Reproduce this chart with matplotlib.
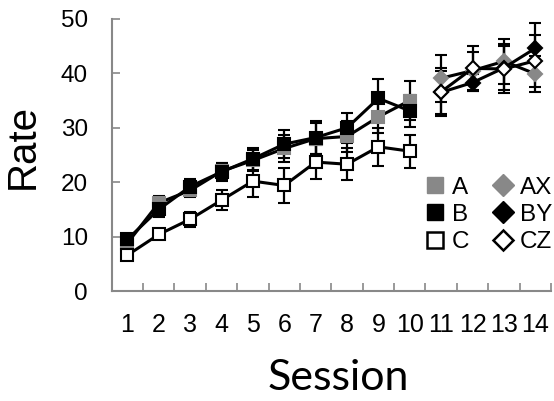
import numpy as np
import matplotlib
matplotlib.use("Agg")
import matplotlib.pyplot as plt
from matplotlib.lines import Line2D
from matplotlib.ticker import FixedLocator, NullFormatter

plt.rcParams["font.family"] = ["Liberation Sans", "DejaVu Sans"]

# Data
sessions_1 = [1, 2, 3, 4, 5, 6, 7, 8, 9, 10]
sessions_2 = [11, 12, 13, 14]
tick_labels = [str(i) for i in range(1, 15)]

a_vals = [8.8, 16.2, 18.5, 22.0, 24.0, 26.2, 28.0, 28.4, 32.0, 35.0]
b_vals = [9.5, 15.0, 19.2, 21.9, 24.3, 27.0, 28.2, 30.0, 35.4, 33.1]
c_vals = [6.6, 10.4, 13.2, 16.7, 20.2, 19.4, 23.7, 23.3, 26.5, 25.7]
a_err = [1.0, 1.2, 1.2, 1.6, 2.0, 2.5, 2.8, 2.8, 3.0, 3.6]
b_err = [1.0, 1.3, 1.4, 1.6, 2.0, 2.5, 3.1, 2.8, 3.6, 3.0]
c_err = [0.8, 0.8, 1.4, 1.8, 3.0, 3.2, 3.1, 2.9, 3.5, 3.0]

ax_vals = [39.1, 40.5, 42.2, 39.9]
by_vals = [36.5, 38.3, 41.0, 44.6]
cz_vals = [36.6, 40.9, 40.8, 42.3]
ax_err = [4.3, 3.5, 4.1, 3.3]
by_err = [4.0, 1.5, 4.1, 4.6]
cz_err = [4.4, 4.2, 4.5, 4.8]

gray = "#888888"
fig = plt.figure(figsize=(5.54, 4.01), dpi=100)
ax = fig.add_axes([0.2016, 0.274, 0.793, 0.679])

series = [
    (sessions_1, a_vals, a_err, "s", gray, gray),
    (sessions_1, b_vals, b_err, "s", "black", "black"),
    (sessions_1, c_vals, c_err, "s", "white", "black"),
    (sessions_2, ax_vals, ax_err, "D", gray, gray),
    (sessions_2, by_vals, by_err, "D", "black", "black"),
    (sessions_2, cz_vals, cz_err, "D", "white", "black"),
]
for x, y, e, m, fc, ec in series:
    ax.errorbar(x, y, yerr=e, color="black", lw=2.2, elinewidth=1.6,
                capsize=4.3, capthick=1.6, marker=m, markersize=8 if m == "s" else 7.5,
                markerfacecolor=fc, markeredgecolor=ec, markeredgewidth=1.5)

ax.set_xlim(0.5, 14.5)
ax.set_ylim(0, 50)
ax.set_yticks([0, 10, 20, 30, 40, 50])
ax.set_xticks(range(1, 15))
ax.set_xticklabels(tick_labels)
ax.xaxis.set_minor_locator(FixedLocator(np.arange(1.5, 15, 1)))
ax.xaxis.set_minor_formatter(NullFormatter())
ax.tick_params(axis="x", which="major", length=0, labelsize=18, pad=16)
ax.tick_params(axis="x", which="minor", direction="in", length=6, width=1.2, color=gray)
ax.tick_params(axis="y", direction="in", length=6, width=1.2, color=gray, labelsize=17.5, pad=17)

for s in ["top", "right"]:
    ax.spines[s].set_visible(False)
for s in ["left", "bottom"]:
    ax.spines[s].set_color(gray)
    ax.spines[s].set_linewidth(1.5)

ax.set_ylabel("Rate", fontsize=29)
ax.yaxis.set_label_coords(-0.159, 0.53)
ax.set_xlabel("Session", fontsize=31, family=["Lato", "DejaVu Sans"])
ax.xaxis.set_label_coords(0.515, -0.25)

handles = [
    Line2D([], [], ls="none", marker="s", markersize=12, markerfacecolor=gray, markeredgecolor=gray),
    Line2D([], [], ls="none", marker="s", markersize=12, markerfacecolor="black", markeredgecolor="black"),
    Line2D([], [], ls="none", marker="s", markersize=11, markerfacecolor="white", markeredgecolor="black", markeredgewidth=1.8),
    Line2D([], [], ls="none", marker="D", markersize=11, markerfacecolor=gray, markeredgecolor=gray),
    Line2D([], [], ls="none", marker="D", markersize=11, markerfacecolor="black", markeredgecolor="black"),
    Line2D([], [], ls="none", marker="D", markersize=10, markerfacecolor="white", markeredgecolor="black", markeredgewidth=1.8),
]
fig.legend(handles, ["A", "B", "C", "AX", "BY", "CZ"], ncol=2, frameon=False,
           loc="upper left", bbox_to_anchor=(0.745, 0.59), fontsize=17.5,
           handlelength=0.8, handletextpad=0.3, columnspacing=1.0,
           labelspacing=0.22, borderpad=0)

fig.savefig("out.png", dpi=100)
